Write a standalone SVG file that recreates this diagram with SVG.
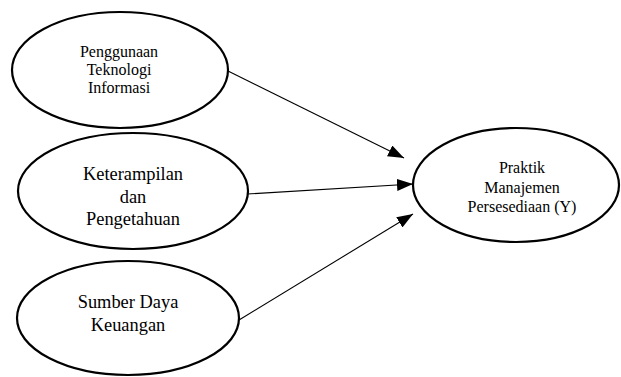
<svg xmlns="http://www.w3.org/2000/svg" width="621" height="377" viewBox="0 0 621 377">
<defs>
<style>
.node ellipse{fill:#fff;stroke:#000;stroke-width:2.2}
.node text{font-family:"Liberation Serif","Times New Roman",serif;fill:#000;text-anchor:middle}
.s16 text{font-size:16px}
.s18 text{font-size:18.4px}
.edges line{stroke:#000;stroke-width:1.1}
</style>
<marker id="arr" viewBox="0 0 16 12" refX="16" refY="6" markerWidth="16" markerHeight="12" markerUnits="userSpaceOnUse" orient="auto">
<path d="M0,0 L16,6 L0,12 Z" fill="#000"/>
</marker>
</defs>
<rect width="621" height="377" fill="#fff"/>
<g id="edges" class="edges">
<line x1="228" y1="71" x2="404" y2="158" marker-end="url(#arr)"/>
<line x1="247" y1="194" x2="413" y2="184" marker-end="url(#arr)"/>
<line x1="239" y1="320" x2="413" y2="214" marker-end="url(#arr)"/>
</g>
<g id="n1" class="node s16">
<ellipse cx="120" cy="70" rx="108" ry="58"/>
<text x="119" y="57">Penggunaan</text>
<text x="119" y="75">Teknologi</text>
<text x="119" y="93">Informasi</text>
</g>
<g id="n2" class="node s18">
<ellipse cx="133" cy="191" rx="115" ry="58"/>
<text x="133" y="180">Keterampilan</text>
<text x="133" y="203">dan</text>
<text x="133" y="225">Pengetahuan</text>
</g>
<g id="n3" class="node s18">
<ellipse cx="128" cy="318" rx="111" ry="57"/>
<text x="128" y="308">Sumber Daya</text>
<text x="128" y="331">Keuangan</text>
</g>
<g id="n4" class="node s16">
<ellipse cx="516" cy="185" rx="103" ry="57"/>
<text x="522" y="173">Praktik</text>
<text x="522" y="193">Manajemen</text>
<text x="522" y="212">Persesediaan (Y)</text>
</g>
</svg>
